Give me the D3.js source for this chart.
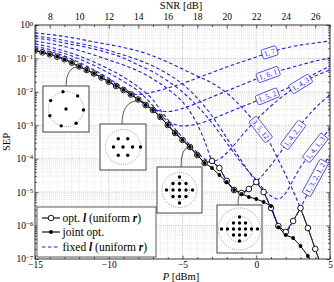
<!DOCTYPE html>
<html>
<head>
<meta charset="utf-8">
<script src="https://cdn.jsdelivr.net/npm/d3@7/dist/d3.min.js"></script>
<style>
  body { margin: 0; background: #fff; }
  svg text { font-family: "Liberation Serif", "DejaVu Serif", serif; }
</style>
</head>
<body>
<div id="chartDiv"></div>
<script>
// transmit power grid of the optimised curves [dBm]
var powerGrid = [-15,-14.5,-14,-13.5,-13,-12.5,-12,-11.5,-11,-10.5,-10,-9.5,-9,-8.5,-8,-7.5,-7,-6.5,-6,-5.5,
                 -5,-4.5,-4,-3.5,-3,-2.5,-2,-1.5,-1,-0.5,0,0.5,1,1.5,2,2.5,3,3.5,4,4.5];
var sepOptL = [0.173,0.152,0.133,0.113,0.0942,0.0745,0.0574,0.0451,0.0354,0.0269,0.0201,0.0150,0.0114,0.00834,0.00591,0.00404,0.00287,0.00177,0.00102,5.88e-4,
               3.63e-4,2.24e-4,1.29e-4,7.44e-5,8.55e-5,5.27e-5,2.16e-5,1.16e-5,9.44e-6,1.24e-5,2.01e-5,1.01e-5,3.36e-6,9.7e-7,6.43e-7,1.37e-6,3.36e-6,8.47e-7,1.99e-7,4.7e-8];
var sepJoint = [0.173,0.152,0.133,0.113,0.0942,0.0745,0.0574,0.0451,0.0354,0.0269,0.0201,0.0150,0.0114,0.00834,0.00591,0.00404,0.00287,0.00177,0.00102,5.88e-4,
                3.63e-4,2.24e-4,1.29e-4,7.44e-5,5.27e-5,3.26e-5,2.01e-5,1.16e-5,8.8e-6,7.16e-6,6.24e-6,5.07e-6,3.85e-6,9.0e-7,5.22e-7,4.25e-7,2.45e-7,1.23e-7,5.4e-8,2e-8];

// fixed ring allocations l (uniform r)
var p_17 = [-15,-14,-13,-12,-11,-10,-9,-8,-7,-6,-5,-4,-3,-2,-1,0,1,2,3,4,5];
var sep_17 = [0.173,0.133,0.0942,0.0574,0.0354,0.0201,0.0114,0.00834,0.0099,0.0130,0.0178,0.0260,0.0379,0.0555,0.0782,0.110,0.156,0.205,0.252,0.290,0.332];
var p_161 = [-15,-14,-13,-12,-11,-10,-9,-8,-7.5,-7,-6.5,-6,-5,-4,-3,-2,-1,0,1,2,3,4,5];
var sep_161 = [0.201,0.161,0.118,0.0755,0.0451,0.0251,0.0130,0.00655,0.00434,0.00318,0.00267,0.00258,0.00318,0.00465,0.00702,0.0106,0.0160,0.0243,0.0354,0.0483,0.0636,0.0838,0.103];
var p_152 = [-15,-14,-13,-12,-11,-10,-9,-8,-7,-6.5,-6,-5.5,-5,-4.5,-4,-3,-2,-1,0,1,2,3,4,5];
var sep_152 = [0.228,0.185,0.140,0.0962,0.0615,0.0366,0.0204,0.0106,0.00378,0.00203,0.00134,0.00106,9.53e-4,9.86e-4,0.00109,0.00154,0.00233,0.00352,0.00533,0.00806,0.0122,0.0204,0.0354,0.0594];
var p_143 = [-15,-14,-13,-12,-11,-10,-9,-8,-7,-6.5,-6,-5.5,-5,-4.5,-4,-3.5,-3,-2.5,-2,-1.5,-1,0,1,2,3,4,5];
var sep_143 = [0.270,0.220,0.167,0.118,0.0782,0.0483,0.0278,0.0140,0.00571,0.00287,0.00149,7.74e-4,4.31e-4,2.57e-4,1.54e-4,9.81e-5,8.26e-5,9.81e-5,1.48e-4,2.57e-4,4.78e-4,0.00144,0.00378,0.00863,0.0172,0.0298,0.0451];
var p_3512 = [-15,-14,-13,-12,-11,-10,-9,-8,-7,-6,-5,-4,-3,-2,-1,0,0.5,1,1.5,2,2.5,3,3.5,4,4.5];
var sep_3512 = [0.577,0.520,0.453,0.381,0.310,0.261,0.212,0.167,0.118,0.0782,0.0483,0.0298,0.0184,0.00925,0.00352,0.00109,5.88e-4,2.57e-4,9.16e-5,3.26e-5,1.08e-5,3.36e-6,8.47e-7,1.99e-7,4.69e-8];
var p_1421 = [-15,-14,-13,-12,-11,-10,-9,-8,-7,-6,-5,-4,-3.5,-3,-2.5,-2,-1.5,-1,-0.5,0,0.5,1,1.5,2,2.5,3,3.5,4,5];
var sep_1421 = [0.332,0.280,0.228,0.173,0.127,0.0897,0.0636,0.0421,0.0243,0.0122,0.00498,0.00109,3.4e-4,8.55e-5,5.27e-5,2.16e-5,1.16e-5,9.44e-6,1.24e-5,2.01e-5,3.49e-5,6.49e-5,1.29e-4,2.57e-4,5.13e-4,0.00102,0.00190,0.00329,0.00806];
var p_1413 = [-15,-14,-13,-12,-11,-10,-9,-8,-7,-6,-5,-4,-3,-2,-1,0,0.5,1,1.5,2,2.5,3,3.5,4,4.5,5];
var sep_1413 = [0.408,0.356,0.290,0.240,0.191,0.145,0.103,0.0636,0.0393,0.0211,0.0099,0.00378,0.00117,2.95e-4,7.44e-5,2.31e-5,1.24e-5,7.67e-6,6.24e-6,9.44e-6,2.31e-5,5.65e-5,1.12e-4,2.09e-4,4.17e-4,8.30e-4];
var p_13212 = [-15,-14,-13,-12,-11,-10,-9,-8,-7,-6,-5,-4,-3,-2,-1,-0.5,0,0.5,1,1.5,2,2.5,3,3.5,4,4.5,5];
var sep_13212 = [0.469,0.408,0.344,0.280,0.228,0.173,0.127,0.0897,0.0594,0.0342,0.0172,0.00655,0.00190,4.17e-4,8.55e-5,4.01e-5,2.01e-5,1.01e-5,3.36e-6,9.7e-7,6.43e-7,1.37e-6,3.36e-6,9.44e-6,2.65e-5,6.05e-5,1.29e-4];

var fixedNames = ["1, 7", "1, 6, 1", "1, 5, 2", "1, 4, 3", "3, 5, 12", "1, 4, 2, 1", "1, 4, 1, 3", "1, 3, 2, 1, 2"];
var fixedLabelP = [0.9, 0.8, 0.75, 3.0, 0.3, 2.5, 4.0, 4.0];

var decades = [1e-7,1e-6,1e-5,1e-4,1e-3,1e-2,1e-1,1];
var decadeExp = ["\u22127","\u22126","\u22125","\u22124","\u22123","\u22122","\u22121","0"];
var pTicks = [-15,-10,-5,0,5];
var snrTicks = [8,10,12,14,16,18,20,22,24,26];
var snrOffset = 22;   // SNR [dB] = P [dBm] + 22

var fixedCurves = [
  {p: p_17, sep: sep_17}, {p: p_161, sep: sep_161}, {p: p_152, sep: sep_152}, {p: p_143, sep: sep_143},
  {p: p_3512, sep: sep_3512}, {p: p_1421, sep: sep_1421}, {p: p_1413, sep: sep_1413}, {p: p_13212, sep: sep_13212}
];
fixedCurves.forEach(function(c, i){ c.name = fixedNames[i]; c.labelP = fixedLabelP[i]; });

var svg = d3.select("#chartDiv").append("svg").attr("width", 334).attr("height", 282),
    plot = {left: 35, right: 330, top: 25, bottom: 259};

var x_scale = d3.scaleLinear().domain([-15, 5]).range([plot.left, plot.right]);
var snr_scale = d3.scaleLinear().domain([-15 + snrOffset, 5 + snrOffset]).range([plot.left, plot.right]);
var y_scale = d3.scaleLog().domain([1e-7, 1]).range([plot.bottom, plot.top]);

svg.append("defs").append("clipPath").attr("id", "plotClip")
  .append("rect").attr("x", plot.left).attr("y", plot.top)
  .attr("width", plot.right - plot.left).attr("height", plot.bottom - plot.top);

// grid
var gridG = svg.append("g");
var yMinor = [];
decades.slice(0, -1).forEach(function(d){ for (var m = 2; m < 10; m++) yMinor.push(d * m); });
var xMinor = d3.range(-14.5, 5, 0.5).filter(function(p){ return pTicks.indexOf(p) < 0; });

gridG.selectAll(".hmin").data(yMinor).enter().append("line")
  .attr("x1", plot.left).attr("x2", plot.right)
  .attr("y1", function(d){ return y_scale(d); }).attr("y2", function(d){ return y_scale(d); })
  .attr("stroke", "#c4c4c4").attr("stroke-width", 0.5).attr("stroke-dasharray", "0.8,1.2");
gridG.selectAll(".vmin").data(xMinor).enter().append("line")
  .attr("y1", plot.top).attr("y2", plot.bottom)
  .attr("x1", function(d){ return x_scale(d); }).attr("x2", function(d){ return x_scale(d); })
  .attr("stroke", "#c4c4c4").attr("stroke-width", 0.5).attr("stroke-dasharray", "0.8,1.2");
gridG.selectAll(".hmaj").data(decades.slice(1, -1)).enter().append("line")
  .attr("x1", plot.left).attr("x2", plot.right)
  .attr("y1", function(d){ return y_scale(d); }).attr("y2", function(d){ return y_scale(d); })
  .attr("stroke", "#999").attr("stroke-width", 0.6).attr("stroke-dasharray", "1,1.2");
gridG.selectAll(".vmaj").data(pTicks.slice(1, -1)).enter().append("line")
  .attr("y1", plot.top).attr("y2", plot.bottom)
  .attr("x1", function(d){ return x_scale(d); }).attr("x2", function(d){ return x_scale(d); })
  .attr("stroke", "#999").attr("stroke-width", 0.6).attr("stroke-dasharray", "1,1.2");

// curves
var curvesG = svg.append("g").attr("clip-path", "url(#plotClip)");
var straight = d3.line().x(function(d){ return x_scale(d[0]); }).y(function(d){ return y_scale(d[1]); });
var smooth = d3.line().curve(d3.curveMonotoneX).x(function(d){ return x_scale(d[0]); }).y(function(d){ return y_scale(d[1]); });

var optPts = powerGrid.map(function(p, i){ return [p, sepOptL[i]]; });
var jointPts = powerGrid.map(function(p, i){ return [p, sepJoint[i]]; });

curvesG.append("path").attr("d", straight(optPts)).attr("fill", "none").attr("stroke", "#000").attr("stroke-width", 1);
curvesG.append("path").attr("d", straight(jointPts)).attr("fill", "none").attr("stroke", "#000").attr("stroke-width", 1);

fixedCurves.forEach(function(c){
  var pts = c.p.map(function(p, i){ return [p, c.sep[i]]; });
  curvesG.append("path").attr("d", smooth(pts)).attr("fill", "none")
    .attr("stroke", "#1a1aff").attr("stroke-width", 1.1).attr("stroke-dasharray", "3.5,2.5");
});

curvesG.selectAll(".optMark").data(optPts).enter().append("circle")
  .attr("cx", function(d){ return x_scale(d[0]); }).attr("cy", function(d){ return y_scale(d[1]); })
  .attr("r", 2.8).attr("fill", "#fff").attr("stroke", "#000").attr("stroke-width", 0.9);
curvesG.selectAll(".jointMark").data(jointPts).enter().append("circle")
  .attr("cx", function(d){ return x_scale(d[0]); }).attr("cy", function(d){ return y_scale(d[1]); })
  .attr("r", 1.9).attr("fill", "#000");

// labels on the fixed-l curves
function pointAt(ps, ss, p) {
  for (var i = 0; i < ps.length - 1; i++) {
    if (p >= ps[i] && p <= ps[i + 1]) {
      var t = (p - ps[i]) / (ps[i + 1] - ps[i]);
      var y0 = y_scale(ss[i]), y1 = y_scale(ss[i + 1]);
      return [x_scale(p), y0 + (y1 - y0) * t];
    }
  }
  return [x_scale(p), y_scale(ss[ss.length - 1])];
}
var labelG = svg.append("g");
fixedCurves.forEach(function(c){
  var pt = pointAt(c.p, c.sep, c.labelP),
      a = pointAt(c.p, c.sep, c.labelP - 0.3),
      b = pointAt(c.p, c.sep, c.labelP + 0.3);
  var ang = Math.atan2(b[1] - a[1], b[0] - a[0]) * 180 / Math.PI;
  var g = labelG.append("g").attr("transform", "translate(" + pt[0] + "," + pt[1] + ") rotate(" + ang + ")");
  var t = g.append("text").attr("text-anchor", "middle").attr("dy", "0.33em")
    .attr("font-size", 7.5).attr("fill", "#1a1aff").text(c.name);
  var bb = t.node().getBBox();
  g.insert("rect", "text").attr("x", bb.x - 2).attr("y", bb.y - 0.3)
    .attr("width", bb.width + 4).attr("height", bb.height + 0.6).attr("rx", 1.5)
    .attr("fill", "#fff").attr("stroke", "#1a1aff").attr("stroke-width", 0.7);
});

// constellation insets
var insets = [
  {box: [43, 86, 46, 46], from: [66, 86], anchorP: -12, circles: [17.5],
   rings: [{n: 1, r: 0, ph: 0}, {n: 7, r: 17.5, ph: 3}]},
  {box: [100, 124, 46, 46], from: [122, 124], anchorP: -7.9, circles: [17.5],
   rings: [{n: 1, r: 0, ph: 0}, {n: 6, r: 9.5, ph: 0}, {n: 1, r: 17.5, ph: 0}]},
  {box: [157, 167, 45, 46], from: [181, 167], anchorP: -4.5, circles: [10, 17.5],
   dots: [[0,-13],[-6.5,-6.5],[0,-6.5],[6.5,-6.5],[-13,0],[-6.5,0],[0,0],[6.5,0],[13,0],[-6.5,6.5],[0,6.5],[6.5,6.5],[0,13]]},
  {box: [217, 205, 45, 48], from: [238, 205], anchorP: -1, circles: [13, 21],
   dots: [[0,-12],[-6,-6],[0,-6],[6,-6],[-18,0],[-12,0],[-6,0],[0,0],[6,0],[12,0],[18,0],[-6,6],[0,6],[6,6],[0,12]]}
];
var insetG = svg.append("g");
insets.forEach(function(ins){
  var cx = ins.box[0] + ins.box[2] / 2, cy = ins.box[1] + ins.box[3] / 2;
  var tx = x_scale(ins.anchorP), ty = pointAt(powerGrid, sepOptL, ins.anchorP)[1];
  insetG.append("path")
    .attr("d", "M" + ins.from[0] + "," + ins.from[1] + " Q" + ins.from[0] + "," + ty + " " + tx + "," + ty)
    .attr("fill", "none").attr("stroke", "#333").attr("stroke-width", 0.8);
  insetG.append("rect").attr("x", ins.box[0]).attr("y", ins.box[1])
    .attr("width", ins.box[2]).attr("height", ins.box[3])
    .attr("fill", "#fff").attr("stroke", "#444").attr("stroke-width", 1);
  ins.circles.forEach(function(r){
    insetG.append("circle").attr("cx", cx).attr("cy", cy).attr("r", r)
      .attr("fill", "none").attr("stroke", "#333").attr("stroke-width", 0.6).attr("stroke-dasharray", "0.8,1.4");
  });
  var dots = ins.dots ? ins.dots.slice() : [];
  (ins.rings || []).forEach(function(rg){
    for (var k = 0; k < rg.n; k++) {
      var a = (rg.ph + k * 360 / rg.n) * Math.PI / 180;
      dots.push([rg.r * Math.cos(a), rg.r * Math.sin(a)]);
    }
  });
  insetG.selectAll(null).data(dots).enter().append("circle")
    .attr("cx", function(d){ return cx + d[0]; }).attr("cy", function(d){ return cy + d[1]; })
    .attr("r", 1.7).attr("fill", "#000");
});

// axes (ticks inside)
function styleAxis(g) {
  g.select(".domain").remove();
  g.selectAll(".tick line").attr("stroke", "#000").attr("stroke-width", 0.6);
  g.selectAll(".tick text").attr("font-size", 9.5).attr("fill", "#000");
}
var pMinor = d3.range(-14, 5, 1).filter(function(p){ return pTicks.indexOf(p) < 0; });
var snrMinor = d3.range(7, 27.01, 1).filter(function(s){ return snrTicks.indexOf(s) < 0; });

svg.append("g").attr("transform", "translate(0," + plot.bottom + ")")
  .call(d3.axisBottom(x_scale).tickValues(pTicks).tickSize(-3.5).tickSizeOuter(0).tickPadding(2.5).tickFormat(d3.format("d"))).call(styleAxis);
svg.append("g").attr("transform", "translate(0," + plot.bottom + ")")
  .call(d3.axisBottom(x_scale).tickValues(pMinor).tickSize(-2).tickSizeOuter(0).tickFormat("")).call(styleAxis);
svg.append("g").attr("transform", "translate(0," + plot.top + ")")
  .call(d3.axisTop(snr_scale).tickValues(snrTicks).tickSize(-3.5).tickSizeOuter(0).tickPadding(5.5).tickFormat(d3.format("d"))).call(styleAxis);
svg.append("g").attr("transform", "translate(0," + plot.top + ")")
  .call(d3.axisTop(snr_scale).tickValues(snrMinor).tickSize(-2).tickSizeOuter(0).tickFormat("")).call(styleAxis);
svg.append("g").attr("transform", "translate(" + plot.left + ",0)")
  .call(d3.axisLeft(y_scale).tickValues(decades).tickSize(-3.5).tickSizeOuter(0).tickFormat("")).call(styleAxis);
svg.append("g").attr("transform", "translate(" + plot.left + ",0)")
  .call(d3.axisLeft(y_scale).tickValues(yMinor).tickSize(-2).tickSizeOuter(0).tickFormat("")).call(styleAxis);
svg.append("g").attr("transform", "translate(" + plot.right + ",0)")
  .call(d3.axisRight(y_scale).tickValues(decades).tickSize(-3.5).tickSizeOuter(0).tickFormat("")).call(styleAxis);
svg.append("g").attr("transform", "translate(" + plot.right + ",0)")
  .call(d3.axisRight(y_scale).tickValues(yMinor).tickSize(-2).tickSizeOuter(0).tickFormat("")).call(styleAxis);

// y tick labels 10^k
var yLab = svg.append("g");
decades.forEach(function(d, i){
  var t = yLab.append("text").attr("x", plot.left - 1.8).attr("y", y_scale(d)).attr("dy", "0.36em")
    .attr("text-anchor", "end").attr("font-size", 9.5);
  t.append("tspan").text("10");
  t.append("tspan").attr("dy", "-0.42em").attr("font-size", 6.8).text(decadeExp[i]);
});

svg.append("rect").attr("x", plot.left).attr("y", plot.top)
  .attr("width", plot.right - plot.left).attr("height", plot.bottom - plot.top)
  .attr("fill", "none").attr("stroke", "#000").attr("stroke-width", 0.8);

// axis titles
svg.append("text").attr("x", 181).attr("y", 9).attr("text-anchor", "middle").attr("font-size", 10.5).text("SNR [dB]");
var pl = svg.append("text").attr("x", 181).attr("y", 280).attr("text-anchor", "middle").attr("font-size", 10.5);
pl.append("tspan").attr("font-style", "italic").text("P");
pl.append("tspan").text(" [dBm]");
svg.append("text").attr("transform", "translate(9.5,142) rotate(-90)").attr("text-anchor", "middle")
  .attr("font-size", 10.5).text("SEP");

// legend
var leg = svg.append("g");
leg.append("rect").attr("x", 37).attr("y", 207).attr("width", 119).attr("height", 50)
  .attr("fill", "#fff").attr("stroke", "#333").attr("stroke-width", 0.8);
var legRows = [
  {y: 218, stroke: "#000", dash: null, mark: "open", parts: [["opt. ", 0], ["l", 1], [" (uniform ", 0], ["r", 1], [")", 0]]},
  {y: 232, stroke: "#000", dash: null, mark: "dot", parts: [["joint opt.", 0]]},
  {y: 247, stroke: "#1a1aff", dash: "3.5,2.5", mark: null, parts: [["fixed ", 0], ["l", 1], [" (uniform ", 0], ["r", 1], [")", 0]]}
];
legRows.forEach(function(r){
  leg.append("line").attr("x1", 42).attr("x2", 60).attr("y1", r.y).attr("y2", r.y)
    .attr("stroke", r.stroke).attr("stroke-width", 1.1).attr("stroke-dasharray", r.dash);
  if (r.mark === "open") leg.append("circle").attr("cx", 51).attr("cy", r.y).attr("r", 2.8)
    .attr("fill", "#fff").attr("stroke", "#000").attr("stroke-width", 0.9);
  if (r.mark === "dot") leg.append("circle").attr("cx", 51).attr("cy", r.y).attr("r", 1.9).attr("fill", "#000");
  var t = leg.append("text").attr("x", 62.5).attr("y", r.y).attr("dy", "0.33em").attr("font-size", 11.5);
  r.parts.forEach(function(pp){
    var s = t.append("tspan").text(pp[0]);
    if (pp[1]) s.attr("font-weight", "bold").attr("font-style", "italic");
  });
});
</script>
</body>
</html>
